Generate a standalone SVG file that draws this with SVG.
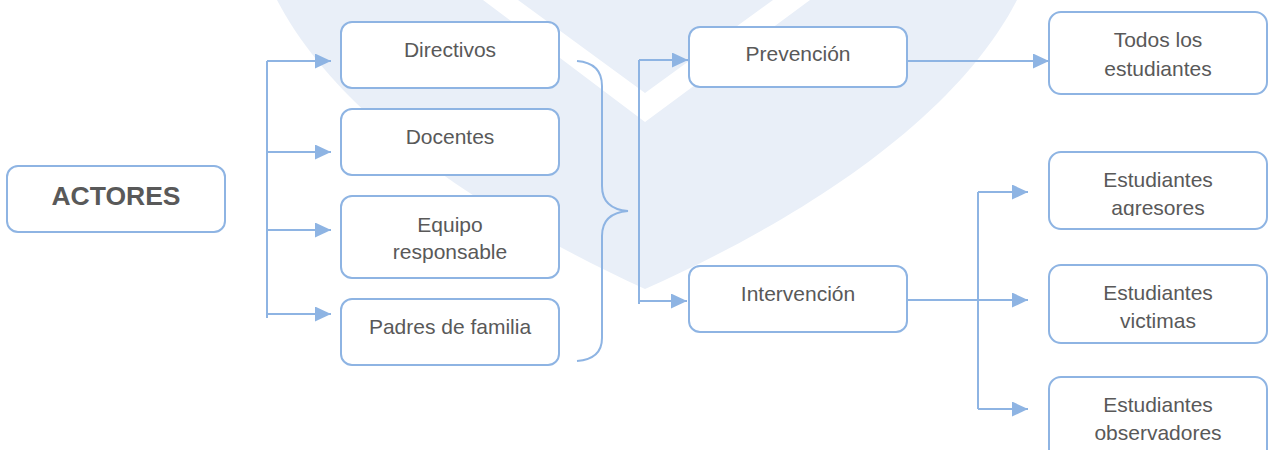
<svg xmlns="http://www.w3.org/2000/svg" width="1268" height="450" viewBox="0 0 1268 450">
  <style>
    .box { fill: #ffffff; stroke: #8EB4E3; stroke-width: 2; }
    .ln { fill: none; stroke: #8EB4E3; stroke-width: 2; }
    .t { font-family: "Liberation Sans", Arial, sans-serif; font-size: 21px; fill: #595959; text-anchor: middle; }
    .tb { font-family: "Liberation Sans", Arial, sans-serif; font-size: 26.5px; font-weight: bold; fill: #595959; text-anchor: middle; }
  </style>
  <defs>
    <marker id="arr" markerUnits="userSpaceOnUse" markerWidth="16" markerHeight="16" refX="16" refY="7.5" orient="auto">
      <path d="M0,0 L16,7.5 L0,15 Z" fill="#8EB4E3"/>
    </marker>
    <clipPath id="clipAgr">
      <rect x="1049" y="150" width="219" height="66"/>
    </clipPath>
  </defs>
  <rect width="1268" height="450" fill="#ffffff"/>
  <g id="watermark">
    <path d="M277,0 L1017,0 C955,120 800,220 645,289 C494,220 339,120 277,0 Z" fill="#E9EFF8"/>
    <path d="M483,0 L518,0 L645,93 L773,0 L810,0 L645,122 Z" fill="#ffffff"/>
  </g>
  <g id="connectors">
    <path class="ln" d="M267,61 L267,318"/>
    <path class="ln" d="M267,61 L331,61" marker-end="url(#arr)"/>
    <path class="ln" d="M267,152 L331,152" marker-end="url(#arr)"/>
    <path class="ln" d="M267,230 L331,230" marker-end="url(#arr)"/>
    <path class="ln" d="M267,314 L331,314" marker-end="url(#arr)"/>
    <path class="ln" d="M577,61 Q602,63 602,86 L602,186 Q602,209 628,211 Q602,213 602,236 L602,338 Q602,359 577,361"/>
    <path class="ln" d="M639,60 L639,304"/>
    <path class="ln" d="M639,60 L688,60" marker-end="url(#arr)"/>
    <path class="ln" d="M639,301 L687,301" marker-end="url(#arr)"/>
    <path class="ln" d="M907,61 L1049,61" marker-end="url(#arr)"/>
    <path class="ln" d="M907,300 L1028,300" marker-end="url(#arr)"/>
    <path class="ln" d="M978,192 L978,409"/>
    <path class="ln" d="M978,192 L1028,192" marker-end="url(#arr)"/>
    <path class="ln" d="M978,409 L1028,409" marker-end="url(#arr)"/>
  </g>
  <g id="actores">
    <rect class="box" x="7" y="166" width="218" height="66" rx="11"/>
    <text class="tb" x="116" y="205">ACTORES</text>
  </g>
  <g id="directivos">
    <rect class="box" x="341" y="22" width="218" height="66" rx="11"/>
    <text class="t" x="450" y="57">Directivos</text>
  </g>
  <g id="docentes">
    <rect class="box" x="341" y="109" width="218" height="66" rx="11"/>
    <text class="t" x="450" y="144">Docentes</text>
  </g>
  <g id="equipo">
    <rect class="box" x="341" y="196" width="218" height="82" rx="11"/>
    <text class="t" x="450" y="232">Equipo</text>
    <text class="t" x="450" y="259">responsable</text>
  </g>
  <g id="padres">
    <rect class="box" x="341" y="299" width="218" height="66" rx="11"/>
    <text class="t" x="450" y="334">Padres de familia</text>
  </g>
  <g id="prevencion">
    <rect class="box" x="689" y="27" width="218" height="60" rx="11"/>
    <text class="t" x="798" y="61">Prevención</text>
  </g>
  <g id="intervencion">
    <rect class="box" x="689" y="266" width="218" height="66" rx="11"/>
    <text class="t" x="798" y="301">Intervención</text>
  </g>
  <g id="todos">
    <rect class="box" x="1049" y="12" width="218" height="82" rx="12"/>
    <text class="t" x="1158" y="47">Todos los</text>
    <text class="t" x="1158" y="76">estudiantes</text>
  </g>
  <g id="agresores">
    <rect class="box" x="1049" y="152" width="218" height="77" rx="12"/>
    <text class="t" x="1158" y="187">Estudiantes</text>
    <text class="t" x="1158" y="215" clip-path="url(#clipAgr)">agresores</text>
  </g>
  <g id="victimas">
    <rect class="box" x="1049" y="265" width="218" height="78" rx="12"/>
    <text class="t" x="1158" y="300">Estudiantes</text>
    <text class="t" x="1158" y="328">victimas</text>
  </g>
  <g id="observadores">
    <rect class="box" x="1049" y="377" width="218" height="90" rx="12"/>
    <text class="t" x="1158" y="412">Estudiantes</text>
    <text class="t" x="1158" y="440">observadores</text>
  </g>
</svg>
